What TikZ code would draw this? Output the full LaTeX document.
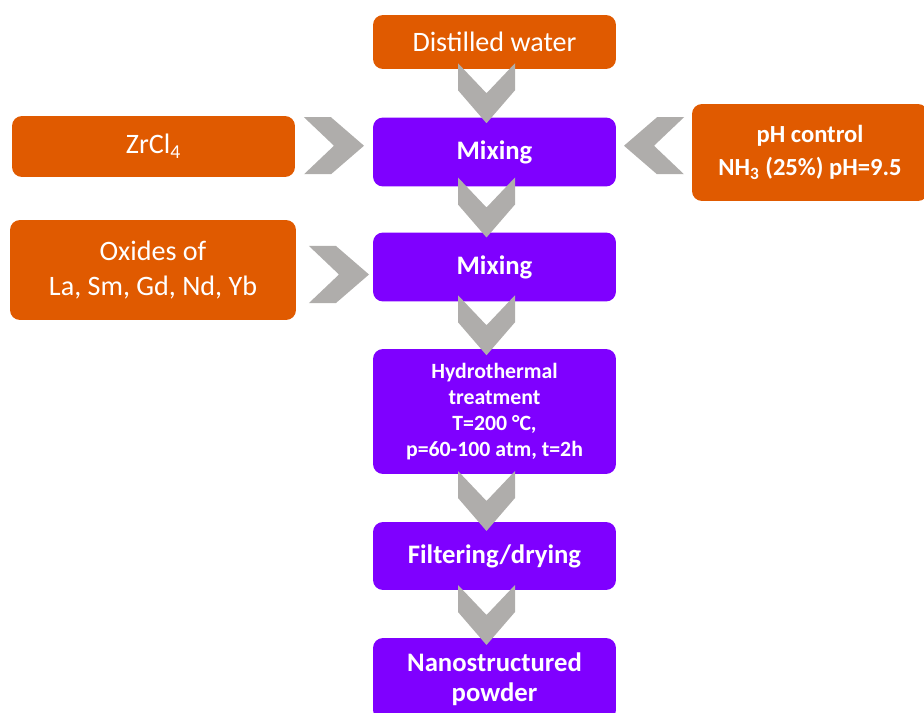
\documentclass[tikz,border=0pt]{standalone}
\usepackage{fontspec}
\setmainfont{Carlito}
\usetikzlibrary{calc}
\definecolor{procorange}{HTML}{E05A00}
\definecolor{procviolet}{HTML}{7F00FF}
\definecolor{chevgray}{HTML}{AFADAB}

\begin{document}
\begin{tikzpicture}[x=0.02cm, y=-0.02cm,
    box/.style={rectangle, rounded corners=0.2cm, text=white, align=center, inner sep=0pt},
    feed/.style={box, fill=procorange, font=\fontsize{16}{19.5}\selectfont},
    proc/.style={box, fill=procviolet, minimum width=4.86cm, font=\bfseries\fontsize{15.2}{17}\selectfont},
    chev/.pic={\fill[chevgray] (-28.5,-30) -- (0,0) -- (28.5,-30) -- (28.5,-3) -- (0,30) -- (-28.5,-3) -- cycle;}
]
    \useasboundingbox (0,0) rectangle (924,713);
    % main line
    \node[feed, minimum width=4.86cm, minimum height=1.08cm] (water) at (494.5,42) {Distilled water};
    \node[proc, minimum height=1.38cm] (mix1) at (494.5,152) {Mixing};
    \node[proc, minimum height=1.38cm] (mix2) at (494.5,267) {Mixing};
    \node[proc, minimum height=2.5cm, font=\bfseries\fontsize{12.4}{14.7}\selectfont] (hydro) at (494.5,411.5)
        {Hydrothermal\\treatment\\T=200 °C,\\p=60-100 atm, t=2h};
    \node[proc, minimum height=1.36cm] (filt) at (494.5,556) {Filtering/drying};
    \node[proc, minimum height=1.64cm] (powder) at (494.5,679) {Nanostructured\\powder};
    % side inputs
    \node[feed, minimum width=5.66cm, minimum height=1.22cm] (zr) at (153.5,146.5) {ZrCl\textsubscript{4}};
    \node[feed, minimum width=5.72cm, minimum height=2cm] (ox) at (153,270) {Oxides of\\La, Sm, Gd, Nd, Yb};
    \node[feed, minimum width=4.72cm, minimum height=1.94cm, font=\bfseries\fontsize{14}{19}\selectfont] (ph) at (810,152.5)
        {pH control\\NH\textsubscript{3} (25\%) pH=9.5};
    % chevrons
    \pic at ($(water.south)!0.5!(mix1.north)+(-8,0)$) {chev};
    \pic at ($(mix1.south)!0.5!(mix2.north)+(-8,-2)$) {chev};
    \pic at ($(mix2.south)!0.5!(hydro.north)+(-8,0)$) {chev};
    \pic at ($(hydro.south)!0.5!(filt.north)+(-8,3)$) {chev};
    \pic at ($(filt.south)!0.5!(powder.north)+(-8,1)$) {chev};
    \pic[rotate=90] at ($(zr.east)!0.5!(mix1.west)+(0,-3.5)$) {chev};
    \pic[rotate=90] at ($(ox.east)!0.5!(mix2.west)+(4.5,6)$) {chev};
    \pic[rotate=-90] at ($(ph.west)!0.5!(mix1.east)+(0,-6.5)$) {chev};
\end{tikzpicture}
\end{document}
